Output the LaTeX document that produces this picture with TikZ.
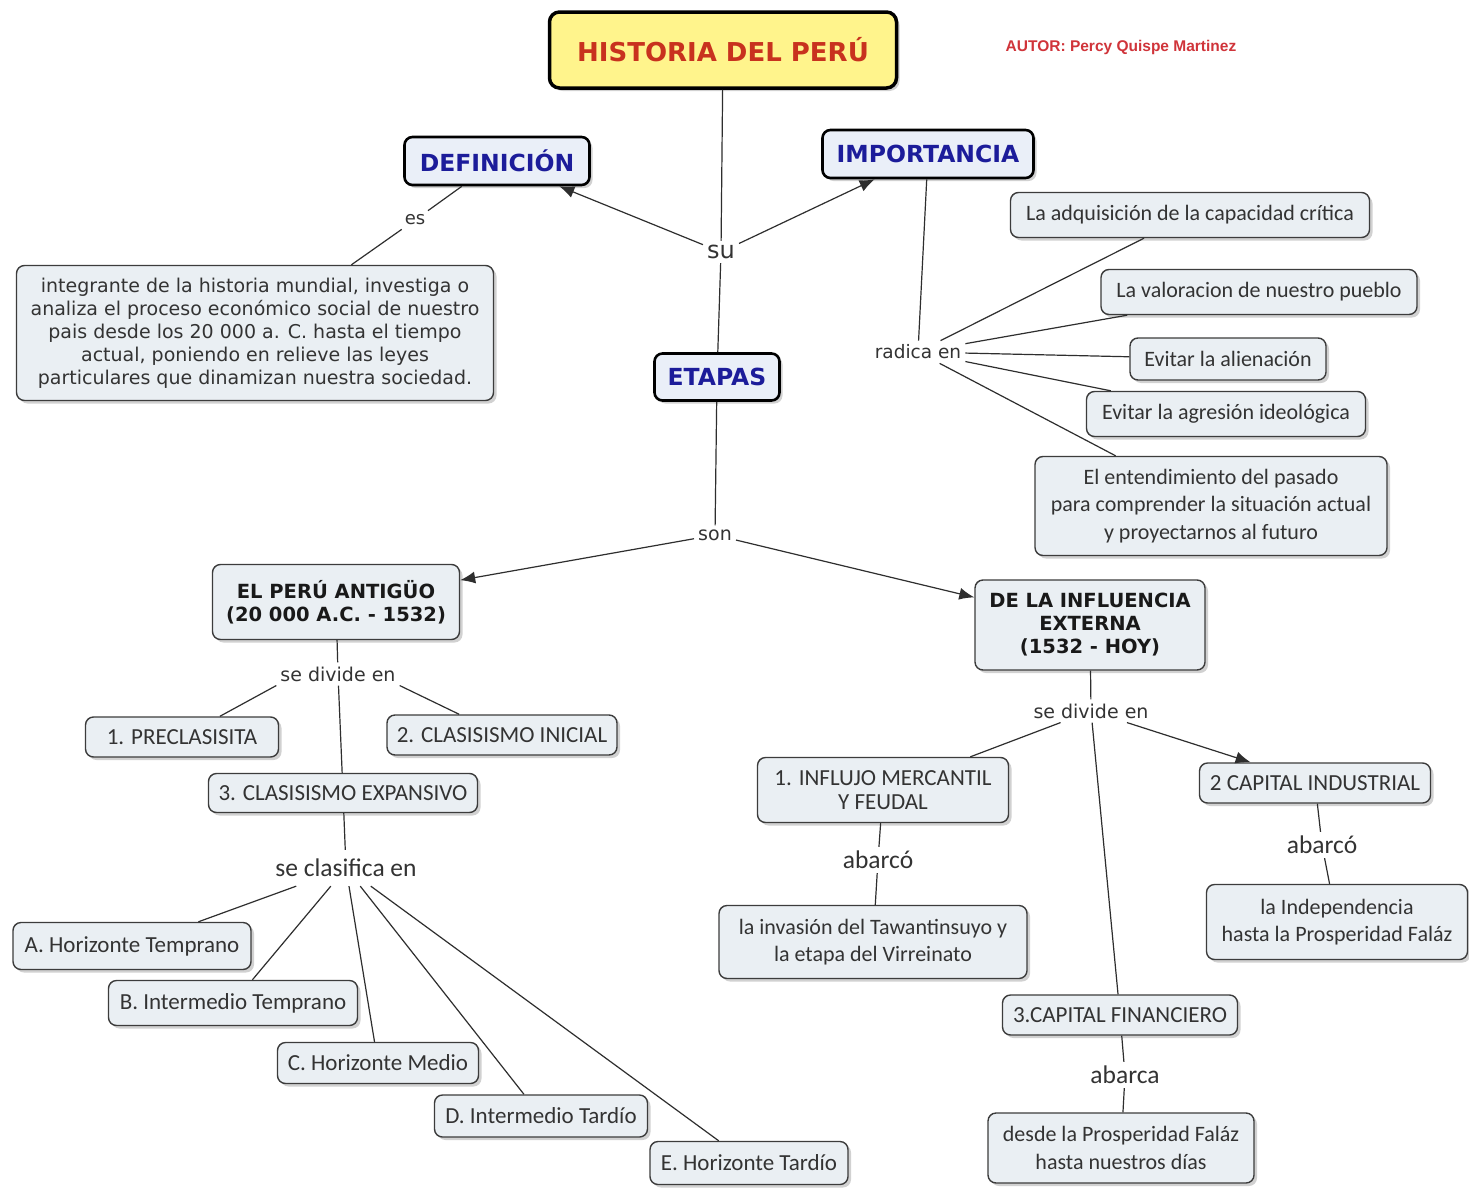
\documentclass[tikz,border=0pt]{standalone}
\usepackage{fontspec}
\setmainfont{DejaVu Sans}
\newfontfamily\calibrifont{Carlito}
\newfontfamily\arialfont{Liberation Sans}
\usetikzlibrary{arrows.meta,shadows}

\definecolor{boxfill}{HTML}{EAEFF3}
\definecolor{headfill}{HTML}{EAEFF8}
\definecolor{boxline}{HTML}{3C3C3C}
\definecolor{titlefill}{HTML}{FFF48C}
\definecolor{titletext}{HTML}{C8321E}
\definecolor{headblue}{HTML}{1C1C9A}
\definecolor{conngray}{HTML}{2E2E2E}
\definecolor{autorred}{HTML}{D0343A}

\tikzset{
  concept/.style={draw=boxline, fill=boxfill, rounded corners=8pt, line width=1.4pt,
    align=center, text=black!80, inner sep=4pt,
    drop shadow={shadow xshift=3pt, shadow yshift=-3pt, opacity=0.18, fill=black}},
  titlebox/.style={concept, draw=black, fill=titlefill, line width=3.5pt, rounded corners=10pt,
    text=titletext, font=\fontsize{26}{30}\selectfont\bfseries},
  head/.style={concept, draw=black, fill=headfill, line width=2.6pt,
    text=headblue, font=\fontsize{23.5}{27}\selectfont\bfseries},
  stage/.style={concept, text=black!90, font=\fontsize{19.5}{23}\selectfont\bfseries},
  item/.style={concept, font=\calibrifont\fontsize{22}{27.5}\selectfont},
  listitem/.style={concept, font=\calibrifont\fontsize{23}{24}\selectfont},
  linkword/.style={inner sep=4pt, text=black!80, font=\fontsize{19}{22}\selectfont},
  linkcal/.style={linkword, font=\calibrifont\fontsize{25.5}{28}\selectfont},
  conn/.style={draw=conngray, line width=1.2pt},
  arr/.style={conn, -{Latex[length=15pt,width=12pt]}}
}

\begin{document}
\begin{tikzpicture}[x=1pt,y=-1pt]
\useasboundingbox (0,0) rectangle (1469,1191);
\fill[white] (0,0) rectangle (1469,1191);

% top
\node[titlebox, minimum width=347pt, minimum height=76pt] (hist) at (723,50) {HISTORIA DEL PERÚ};
\node[text=autorred, font=\arialfont\fontsize{15.5}{18}\selectfont\bfseries] (autor) at (1121,47) {AUTOR: Percy Quispe Martinez};
\node[head, minimum width=185pt, minimum height=48pt] (defi) at (497,161) {DEFINICIÓN};
\node[head, minimum width=211pt, minimum height=48pt] (impo) at (928,154) {IMPORTANCIA};
\node[head, minimum width=125pt, minimum height=47pt] (etap) at (717,377) {ETAPAS};
\node[linkword, font=\fontsize{24}{28}\selectfont] (su) at (721,252) {su};
\node[linkword, font=\fontsize{18}{22}\selectfont] (es) at (415,220) {es};
\node[concept, minimum width=477pt, minimum height=135pt, font=\fontsize{19}{23}\selectfont] (defbox) at (255,333)
  {integrante de la historia mundial, investiga o\\analiza el proceso económico social de nuestro\\pais desde los 20 000 a. C. hasta el tiempo\\actual, poniendo en relieve las leyes\\particulares que dinamizan nuestra sociedad.};

% importancia
\node[linkword, font=\fontsize{18.5}{22}\selectfont] (radica) at (918,352) {radica en};
\node[item, minimum width=359pt, minimum height=45pt] (crit) at (1190,215) {La adquisición de la capacidad crítica};
\node[item, minimum width=316pt, minimum height=45pt] (valor) at (1259,292) {La valoracion de nuestro pueblo};
\node[item, minimum width=196pt, minimum height=42pt] (alien) at (1228,359) {Evitar la alienación};
\node[item, minimum width=279pt, minimum height=45pt] (agres) at (1226,414) {Evitar la agresión ideológica};
\node[item, minimum width=352pt, minimum height=99pt] (entend) at (1211,506)
  {El entendimiento del pasado\\para comprender la situación actual\\y proyectarnos al futuro};

% etapas
\node[linkword] (son) at (715,535) {son};
\node[stage, minimum width=247pt, minimum height=75pt] (anti) at (336,602) {EL PERÚ ANTIGÜO\\(20 000 A.C. - 1532)};
\node[stage, minimum width=230pt, minimum height=90pt] (infl) at (1090,625) {DE LA INFLUENCIA\\EXTERNA\\(1532 - HOY)};

% peru antiguo
\node[linkword] (div1) at (338,674) {se divide en};
\node[listitem, minimum width=193pt, minimum height=40pt] (pre) at (182,737) {1. PRECLASISITA};
\node[listitem, minimum width=230pt, minimum height=40pt] (cini) at (502,735) {2. CLASISISMO INICIAL};
\node[listitem, minimum width=269pt, minimum height=39pt] (cexp) at (343,793) {3. CLASISISMO EXPANSIVO};
\node[linkcal, inner sep=9pt] (clas) at (346,868) {se clasifica en};
\node[listitem, minimum width=238pt, minimum height=47pt] (hte) at (132,946) {A. Horizonte Temprano};
\node[listitem, minimum width=249pt, minimum height=45pt] (ite) at (233,1003) {B. Intermedio Temprano};
\node[listitem, minimum width=201pt, minimum height=41pt] (hme) at (378,1063) {C. Horizonte Medio};
\node[listitem, minimum width=213pt, minimum height=42pt] (ita) at (541,1116) {D. Intermedio Tardío};
\node[listitem, minimum width=198pt, minimum height=43pt] (hta) at (749,1163) {E. Horizonte Tardío};

% influencia externa
\node[linkword] (div2) at (1091,711) {se divide en};
\node[listitem, minimum width=251pt, minimum height=65pt] (merc) at (883,790) {1. INFLUJO MERCANTIL\\Y FEUDAL};
\node[listitem, minimum width=231pt, minimum height=40pt] (cind) at (1315,783) {2 CAPITAL INDUSTRIAL};
\node[listitem, minimum width=235pt, minimum height=40pt] (cfin) at (1120,1015) {3.CAPITAL FINANCIERO};
\node[linkcal] (abar1) at (878,860) {abarcó};
\node[linkcal] (abar2) at (1322,845) {abarcó};
\node[linkcal] (abar3) at (1125,1075) {abarca};
\node[item, minimum width=308pt, minimum height=73pt] (inva) at (873,942) {la invasión del Tawantinsuyo y\\la etapa del Virreinato};
\node[item, minimum width=261pt, minimum height=75pt] (inde) at (1337,922) {la Independencia\\hasta la Prosperidad Faláz};
\node[item, minimum width=266pt, minimum height=70pt] (desd) at (1121,1148) {desde la Prosperidad Faláz\\hasta nuestros días};

% connectors
\draw[conn] (hist) -- (su);
\draw[arr] (su) -- (defi);
\draw[arr] (su) -- (impo);
\draw[conn] (su) -- (etap);
\draw[conn] (defi) -- (es) -- (defbox);
\draw[conn] (impo) -- (radica);
\foreach \t in {crit,valor,alien,agres,entend}
  \draw[conn] (radica) -- (\t);
\draw[conn] (etap) -- (son);
\draw[arr] (son) -- (anti);
\draw[arr] (son) -- (infl);
\draw[conn] (anti) -- (div1);
\draw[conn] (div1.south west) -- (pre);
\draw[conn] (div1.south east) -- (cini);
\draw[conn] (div1) -- (cexp);
\draw[conn] (cexp) -- (clas);
\foreach \t in {hte,ite,hme,ita,hta}
  \draw[conn] (clas) -- (\t);
\draw[conn] (infl) -- (div2);
\draw[conn] (div2) -- (merc);
\draw[arr] (div2) -- (cind);
\draw[conn] (div2) -- (cfin);
\draw[conn] (merc) -- (abar1) -- (inva);
\draw[conn] (cind) -- (abar2) -- (inde);
\draw[conn] (cfin) -- (abar3) -- (desd);
\end{tikzpicture}
\end{document}
